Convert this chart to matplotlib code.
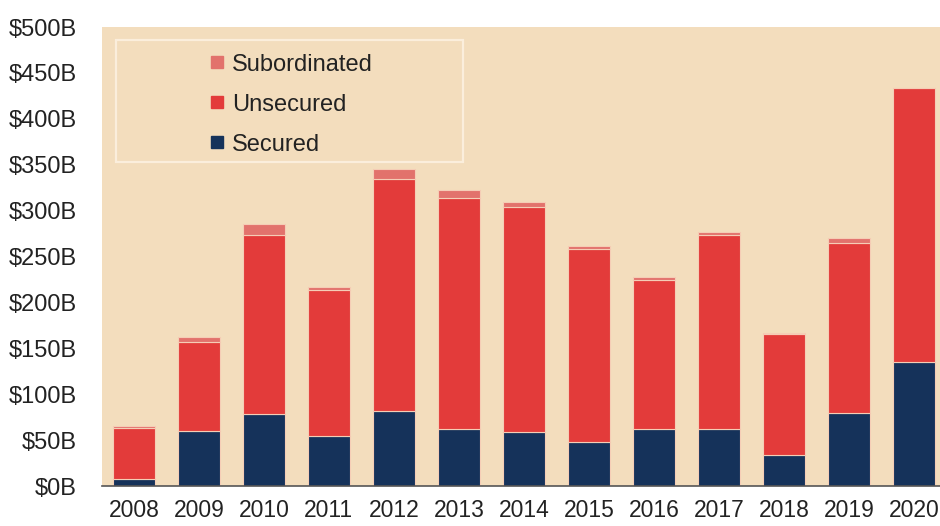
import matplotlib
matplotlib.use("Agg")
import matplotlib.pyplot as plt
from matplotlib.lines import Line2D
from matplotlib.patches import Rectangle
import numpy as np

years = ["2008", "2009", "2010", "2011", "2012", "2013", "2014",
         "2015", "2016", "2017", "2018", "2019", "2020"]
secured = [8, 60, 78, 54, 82, 62, 59, 48, 62, 62, 34, 80, 135]
unsecured = [55, 97, 195, 160, 252, 252, 245, 210, 163, 211, 132, 185, 299]
subordinated = [2, 5, 12, 3, 11, 8, 5.5, 3, 3, 3.6, 1, 5, 0]
yticks = [0, 50, 100, 150, 200, 250, 300, 350, 400, 450, 500]
ytick_labels = ["$%dB" % v for v in yticks]

BG = "#F3DDBD"
NAVY = "#15325A"
RED = "#E33B3A"
SUB = "#E2726C"
EDGE = "#F5CDB6"

plt.rcParams["font.family"] = ["Liberation Sans", "DejaVu Sans"]

fig = plt.figure(figsize=(9.4, 5.26), dpi=100)
ax = fig.add_axes([0.1085, 0.076, 0.8915, 0.8725])
ax.set_facecolor(BG)

x = np.arange(len(years))
w = 0.65
sec = np.array(secured, dtype=float)
uns = np.array(unsecured, dtype=float)
sub = np.array(subordinated, dtype=float)

ax.bar(x, sec, w, color=NAVY, edgecolor=EDGE, linewidth=0.8, zorder=2)
ax.bar(x, uns, w, bottom=sec, color=RED, edgecolor=EDGE, linewidth=0.8, zorder=2)
ax.bar(x, sub, w, bottom=sec + uns, color=SUB, edgecolor=EDGE, linewidth=0.8, zorder=2)

ax.set_xlim(-0.49, 12.4)
ax.set_ylim(0, 500)
ax.set_yticks(yticks)
ax.set_yticklabels(ytick_labels, fontsize=17, color="#222222")
ax.set_xticks(x)
ax.set_xticklabels(years, fontsize=16.5, color="#222222")
ax.tick_params(axis="y", length=0, pad=18)
ax.tick_params(axis="x", length=0, pad=9)

for s in ["top", "right", "left"]:
    ax.spines[s].set_visible(False)
ax.spines["bottom"].set_color("#555555")
ax.spines["bottom"].set_linewidth(1.2)
ax.spines["bottom"].set_zorder(3)

# legend frame
ax.add_patch(Rectangle((0.0167, 0.706), 0.414, 0.266, transform=ax.transAxes,
                       facecolor="none", edgecolor="#FBEEDC", linewidth=1.6, zorder=4))
handles = [Line2D([], [], marker="s", linestyle="none", markersize=8.5, color=c)
           for c in [SUB, RED, NAVY]]
leg = ax.legend(handles, ["Subordinated", "Unsecured", "Secured"],
                loc="upper left", bbox_to_anchor=(0.1085, 0.978),
                frameon=False, fontsize=17, handlelength=0.6, handletextpad=0.35,
                labelspacing=0.76, borderpad=0.2)
for t in leg.get_texts():
    t.set_color("#222222")

fig.savefig("out.png", dpi=100, facecolor="white")
